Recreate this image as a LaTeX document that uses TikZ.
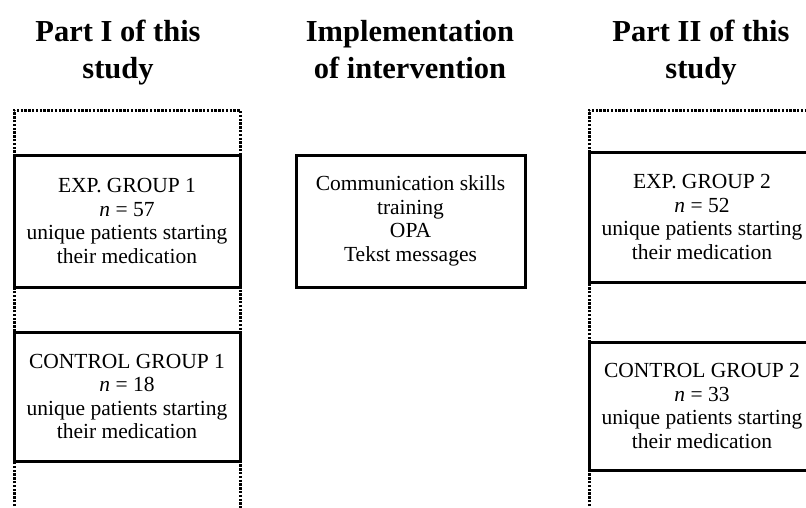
\documentclass[tikz,border=0pt]{standalone}
\usepackage{fontspec}
\setmainfont{Liberation Serif}
\begin{document}
\begin{tikzpicture}[x=1pt,y=-1pt,
  title/.style={font=\fontsize{30.5}{37}\selectfont\bfseries, align=center, anchor=center, inner sep=0pt},
  grp/.style={draw=black, line width=3pt, fill=white, align=center,
    font=\fontsize{21.5}{23.5}\selectfont, inner sep=0pt},
  frame/.style={draw=black, line width=3pt, dash pattern=on 2.4pt off 1.4pt}]
\useasboundingbox (0,0) rectangle (806,507);
\clip (0,0) rectangle (806,507);
% titles
\node[title] (t1) at (118,53) {Part I of this\\study};
\node[title] (t2) at (410,50) {Implementation\\of intervention};
\node[title] (t3) at (701,53) {Part II of this\\study};
% dotted frames
\coordinate (l1) at (14,110);
\coordinate (l2) at (240,110);
\coordinate (l3) at (14,510);
\coordinate (l4) at (240,510);
\draw[frame] (l3) -- (l1) -- (l2) -- (l4);
\coordinate (r1) at (589,110);
\coordinate (r2) at (830,110);
\coordinate (r3) at (589,510);
\draw[frame] (r3) -- (r1) -- (r2);
% boxes
\node[grp, minimum width=226pt, minimum height=132pt] (exp1) at (127,221)
  {EXP. GROUP 1\\\textit{n} = 57\\unique patients starting\\their medication};
\node[grp, minimum width=226pt, minimum height=129pt] (ctl1) at (127,396.5)
  {CONTROL GROUP 1\\\textit{n} = 18\\unique patients starting\\their medication};
\node[grp, minimum width=229pt, minimum height=132pt] (int) at (410.5,221)
  {Communication skills\\training\\OPA\\Tekst messages};
\node[grp, minimum width=226pt, minimum height=130pt] (exp2) at (702,217)
  {EXP. GROUP 2\\\textit{n} = 52\\unique patients starting\\their medication};
\node[grp, minimum width=226pt, minimum height=128pt] (ctl2) at (702,406)
  {CONTROL GROUP 2\\\textit{n} = 33\\unique patients starting\\their medication};
\end{tikzpicture}
\end{document}
